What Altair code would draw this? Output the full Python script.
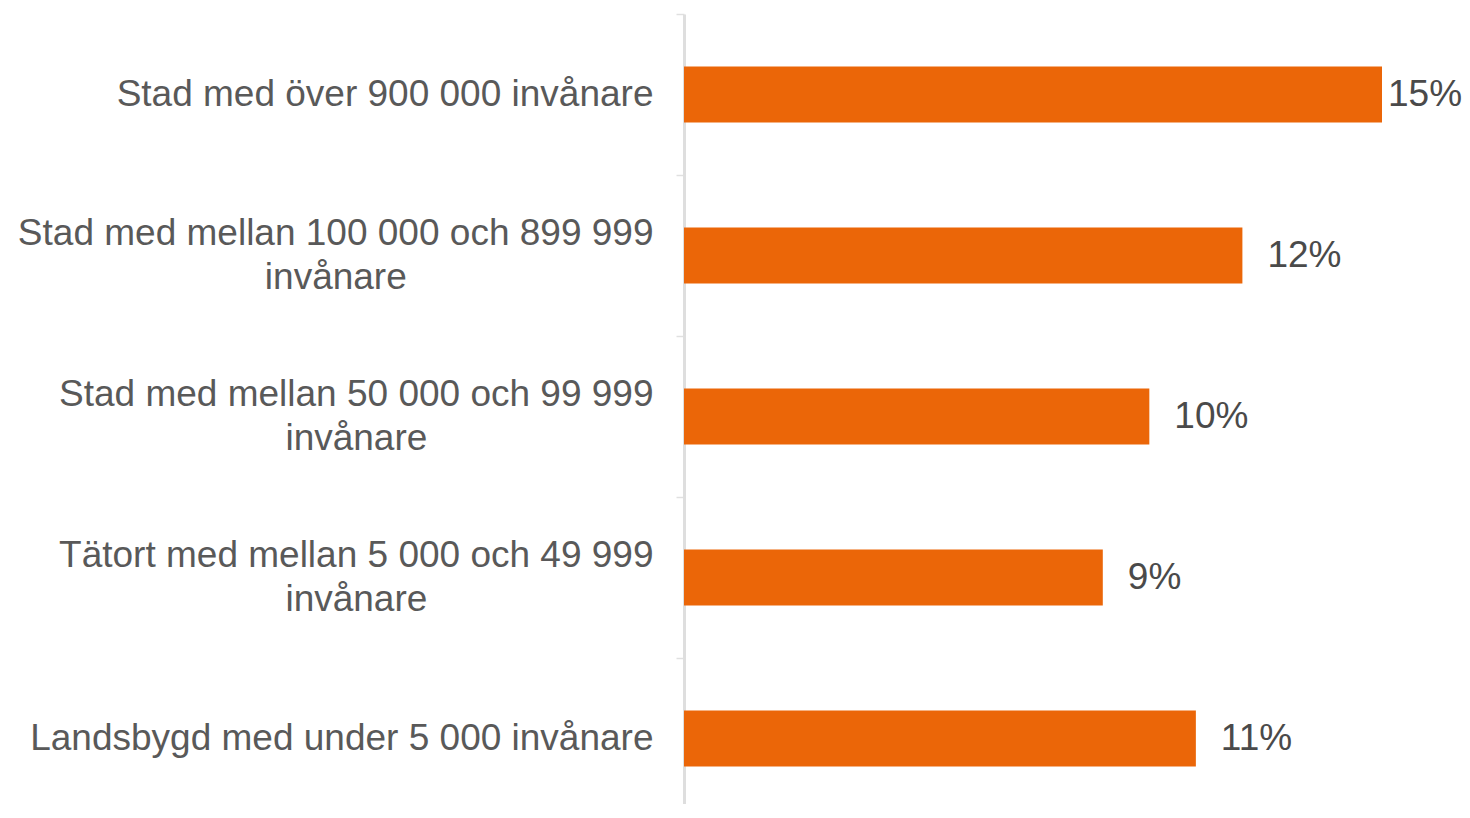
import altair as alt
import pandas as pd

categories = [
    "Stad med över 900 000 invånare",
    "Stad med mellan 100 000 och 899 999\ninvånare",
    "Stad med mellan 50 000 och 99 999\ninvånare",
    "Tätort med mellan 5 000 och 49 999\ninvånare",
    "Landsbygd med under 5 000 invånare",
]
values = [15, 12, 10, 9, 11]

# approximate Arial widths (em) to centre the second label line under the first
_w = {" ": 0.278, "i": 0.222, "l": 0.222, "t": 0.278, "r": 0.333, "v": 0.5,
      "c": 0.5, "y": 0.5, "m": 0.833, "S": 0.667, "T": 0.611, "L": 0.667}
ZW = "\u200b"  # zero-width space: keeps blank lines and padding from being dropped


def _width(s):
    return sum(_w.get(ch, 0.556) for ch in s)


def _display(label):
    lines = label.split("\n")
    if len(lines) == 1:
        # leading blank half-line keeps single-line labels centred on the band
        return ZW + "\n" + label
    pad = (_width(lines[0]) - _width(lines[1])) / 2
    n = int(round(pad / 0.278))
    return lines[0] + "\n" + ZW + "\n" + lines[1] + "\u00a0" * n + ZW


df = pd.DataFrame({
    "cat": [_display(c) for c in categories],
    "value": values,
})
order = list(df["cat"])

y_enc = alt.Y(
    "cat:N",
    sort=order,
    title=None,
    scale=alt.Scale(paddingInner=0, paddingOuter=0, range=[0, 805]),
    axis=alt.Axis(
        labelExpr="split(datum.label, '\\n')",
        labelFont="Liberation Sans",
        labelFontSize=37,
        labelColor="#595959",
        labelLineHeight=22,
        labelLimit=0,
        labelPadding=23,
        labelAlign="right",
        labelBaseline="bottom",
        labelOffset=-3,
        tickBand="extent",
        tickSize=8,
        tickColor="#e0e0e0",
        tickWidth=1.5,
        domainColor="#dedede",
        domainWidth=3,
        grid=False,
    ),
)
x_enc = alt.X("value:Q", scale=alt.Scale(domain=[0, 15], nice=False, zero=True), axis=None)

bars = alt.Chart(df).mark_bar(color="#EB6608", height=56).encode(x=x_enc, y=y_enc)

base_text = alt.Chart(df).transform_joinaggregate(
    vmax="max(value)"
).transform_calculate(
    lbl="datum.value + '%'"
)

text_normal = base_text.transform_filter("datum.value < datum.vmax").mark_text(
    align="left", baseline="middle", dx=25, fontSize=37,
    font="Liberation Sans", color="#4a4a4a",
).encode(x=x_enc, y=alt.Y("cat:N", sort=order), text="lbl:N")

text_max = base_text.transform_filter("datum.value >= datum.vmax").mark_text(
    align="left", baseline="middle", dx=6, fontSize=37,
    font="Liberation Sans", color="#4a4a4a",
).encode(x=x_enc, y=alt.Y("cat:N", sort=order), text="lbl:N")

chart = alt.layer(bars, text_normal, text_max).properties(
    width=698,
    height=790,
    autosize=alt.AutoSizeParams(type="none"),
    padding={"left": 676, "top": 6, "right": 80, "bottom": 0},
).configure_view(strokeWidth=0, stroke="transparent")

chart.save("out.html", embed_options={"renderer": "svg", "actions": False})
